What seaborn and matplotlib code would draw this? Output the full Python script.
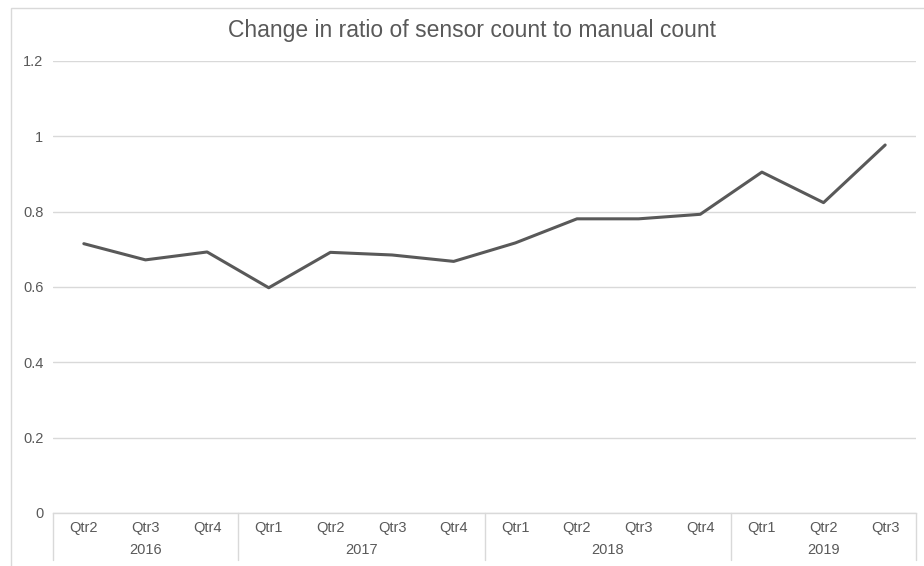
import matplotlib
matplotlib.use("Agg")
import matplotlib.pyplot as plt
import matplotlib.transforms as mtransforms
from matplotlib.patches import Rectangle
import numpy as np
import pandas as pd
import seaborn as sns

# Quarterly ratio of sensor count to manual count
years = ["2016"] * 3 + ["2017"] * 4 + ["2018"] * 4 + ["2019"] * 3
quarters = ["Qtr2", "Qtr3", "Qtr4",
            "Qtr1", "Qtr2", "Qtr3", "Qtr4",
            "Qtr1", "Qtr2", "Qtr3", "Qtr4",
            "Qtr1", "Qtr2", "Qtr3"]
ratio = [0.715, 0.672, 0.693,
         0.598, 0.692, 0.685, 0.668,
         0.717, 0.781, 0.781, 0.793,
         0.905, 0.824, 0.977]
year_labels = ["2016", "2017", "2018", "2019"]
y_ticks = [0, 0.2, 0.4, 0.6, 0.8, 1.0, 1.2]
y_tick_labels = ["0", "0.2", "0.4", "0.6", "0.8", "1", "1.2"]

df = pd.DataFrame({"year": years, "quarter": quarters, "ratio": ratio})
df["pos"] = np.arange(len(df))

sns.set_theme(style="white")
plt.rcParams["font.family"] = ["Liberation Sans", "DejaVu Sans"]

TEXT = "#595959"
GRID = "#d9d9d9"

W, H = 924, 566
fig = plt.figure(figsize=(W / 100, H / 100), dpi=100)
fig.patch.set_facecolor("white")

# chart frame
fig.patches.append(Rectangle((11 / W, -0.05), 1.0, (H - 8) / H + 0.05,
                             transform=fig.transFigure, fill=False,
                             edgecolor=GRID, linewidth=1.0))

left, right, bottom, top = 53, 916, 513, 61
ax = fig.add_axes([left / W, (H - bottom) / H, (right - left) / W, (bottom - top) / H])

sns.lineplot(data=df, x="pos", y="ratio", ax=ax, color=TEXT, linewidth=2.2,
             solid_joinstyle="round", solid_capstyle="round")

n = len(df)
ax.set_xlim(-0.5, n - 0.5)
ax.set_ylim(0, 1.2)
ax.set_yticks(y_ticks)
ax.set_yticklabels(y_tick_labels)
ax.set_xticks(df["pos"])
ax.set_xticklabels(df["quarter"])
ax.set_xlabel("")
ax.set_ylabel("")
ax.tick_params(axis="y", length=0, pad=7, labelsize=10.5, labelcolor=TEXT)
ax.tick_params(axis="x", length=0, pad=6, labelsize=10.5, labelcolor=TEXT)

for sp in ["left", "right", "top"]:
    ax.spines[sp].set_visible(False)
ax.spines["bottom"].set_color(GRID)
ax.spines["bottom"].set_linewidth(1.0)

ax.grid(axis="y", color=GRID, linewidth=1.0)
ax.grid(axis="x", visible=False)
ax.set_axisbelow(True)

# year grouping under the quarter labels
trans = mtransforms.blended_transform_factory(ax.transData, ax.transAxes)
ax_h = bottom - top
sep_depth = 47 / ax_h
year_y = -37 / ax_h
bounds = [-0.5]
for y in year_labels:
    idx = df.index[df["year"] == y]
    bounds.append(idx.max() + 0.5)
    ax.text((idx.min() + idx.max()) / 2, year_y, y, transform=trans,
            ha="center", va="center", fontsize=10.5, color=TEXT)
for b in bounds:
    ax.plot([b, b], [0, -sep_depth], transform=trans, color=GRID,
            linewidth=1.0, clip_on=False)

fig.text(472 / W, 1 - 30 / H, "Change in ratio of sensor count to manual count",
         ha="center", va="center", fontsize=16.5, color=TEXT)

fig.savefig("out.png", dpi=100, facecolor="white")
